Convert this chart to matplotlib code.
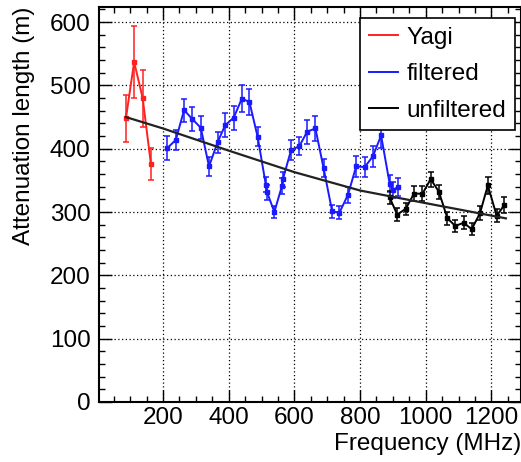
import numpy as np
import matplotlib.pyplot as plt
from matplotlib.ticker import MultipleLocator

# === data ===
yagi_f = [87, 112, 138, 163]
yagi_v = [448, 537, 480, 376]
yagi_e = [37, 57, 45, 25]

filt_f = [213, 239, 264, 289, 315, 340, 366, 389, 415, 440, 463, 488, 513, 517,
          539, 562, 565, 590, 615, 639, 664, 689, 715, 737, 763, 788, 814, 839,
          864, 890, 900, 914]
filt_v = [401, 414, 461, 447, 433, 372, 410, 437, 449, 479, 474, 419, 343, 331,
          300, 341, 352, 398, 404, 427, 432, 369, 301, 299, 327, 372, 371, 388,
          421, 345, 335, 339]
filt_e = [19, 16, 18, 19, 18, 15, 17, 19, 19, 21, 21, 15, 12, 12,
          10, 12, 12, 16, 14, 19, 20, 14, 10, 10, 12, 16, 16, 17,
          20, 14, 13, 14]

unf_f = [890, 913, 939, 964, 990, 1015, 1040, 1066, 1090, 1115, 1140, 1165, 1189, 1216, 1239]
unf_v = [323, 296, 305, 329, 329, 352, 332, 290, 278, 283, 273, 298, 342, 294, 311]
unf_e = [10, 10, 10, 12, 12, 12, 11, 10, 10, 10, 10, 11, 14, 10, 13]

fit_f = [87, 200, 400, 600, 800, 1000, 1244]
fit_v = [450, 432, 397, 363, 334, 314, 290]

plt.rcParams['font.family'] = ['Liberation Sans', 'DejaVu Sans']

fig = plt.figure(figsize=(5.21, 4.62), dpi=100)
ax = fig.add_axes([0.19, 0.13, 0.81, 0.855])

red = '#ff2020'
blue = '#1a1aff'

for f, v, e, c, lab in [(yagi_f, yagi_v, yagi_e, red, 'Yagi'),
                        (filt_f, filt_v, filt_e, blue, 'filtered'),
                        (unf_f, unf_v, unf_e, 'black', 'unfiltered')]:
    ax.errorbar(f, v, yerr=e, fmt='s-', color=c, ms=3, lw=1.4, elinewidth=1.1,
                capsize=2, capthick=1.1, label=lab, zorder=3)

ax.plot(fit_f, fit_v, '-', color='#222222', lw=1.6, zorder=4)

ax.set_xlim(5, 1290)
ax.set_ylim(0, 624)
ax.xaxis.set_major_locator(MultipleLocator(200))
ax.xaxis.set_minor_locator(MultipleLocator(50))
ax.yaxis.set_major_locator(MultipleLocator(100))
ax.yaxis.set_minor_locator(MultipleLocator(20))
ax.tick_params(which='both', direction='in', top=True, right=True, labelsize=17.5)
ax.tick_params(axis='y', pad=6)
ax.tick_params(which='major', length=9, width=1)
ax.tick_params(which='minor', length=4.5, width=1)
for s in ax.spines.values():
    s.set_linewidth(1.5)
ax.grid(True, which='major', color='black', linestyle=(0, (1, 2)), lw=0.9)

ax.set_xlabel('Frequency (MHz)', fontsize=17.5, loc='right', labelpad=3)
ax.set_ylabel('Attenuation length (m)', fontsize=17.5, loc='top', labelpad=11)

h, l = ax.get_legend_handles_labels()
hl = [plt.Line2D([], [], color=c, lw=1.4) for c in (red, blue, 'black')]
leg = ax.legend(hl, l, loc='upper right', bbox_to_anchor=(0.985, 0.972),
                borderaxespad=0, fontsize=17.5, fancybox=False, framealpha=1,
                edgecolor='black', handlelength=1.2, handletextpad=0.35,
                labelspacing=0.6, borderpad=0.35)
leg.get_frame().set_linewidth(1.2)

fig.savefig('out.png', dpi=100)
